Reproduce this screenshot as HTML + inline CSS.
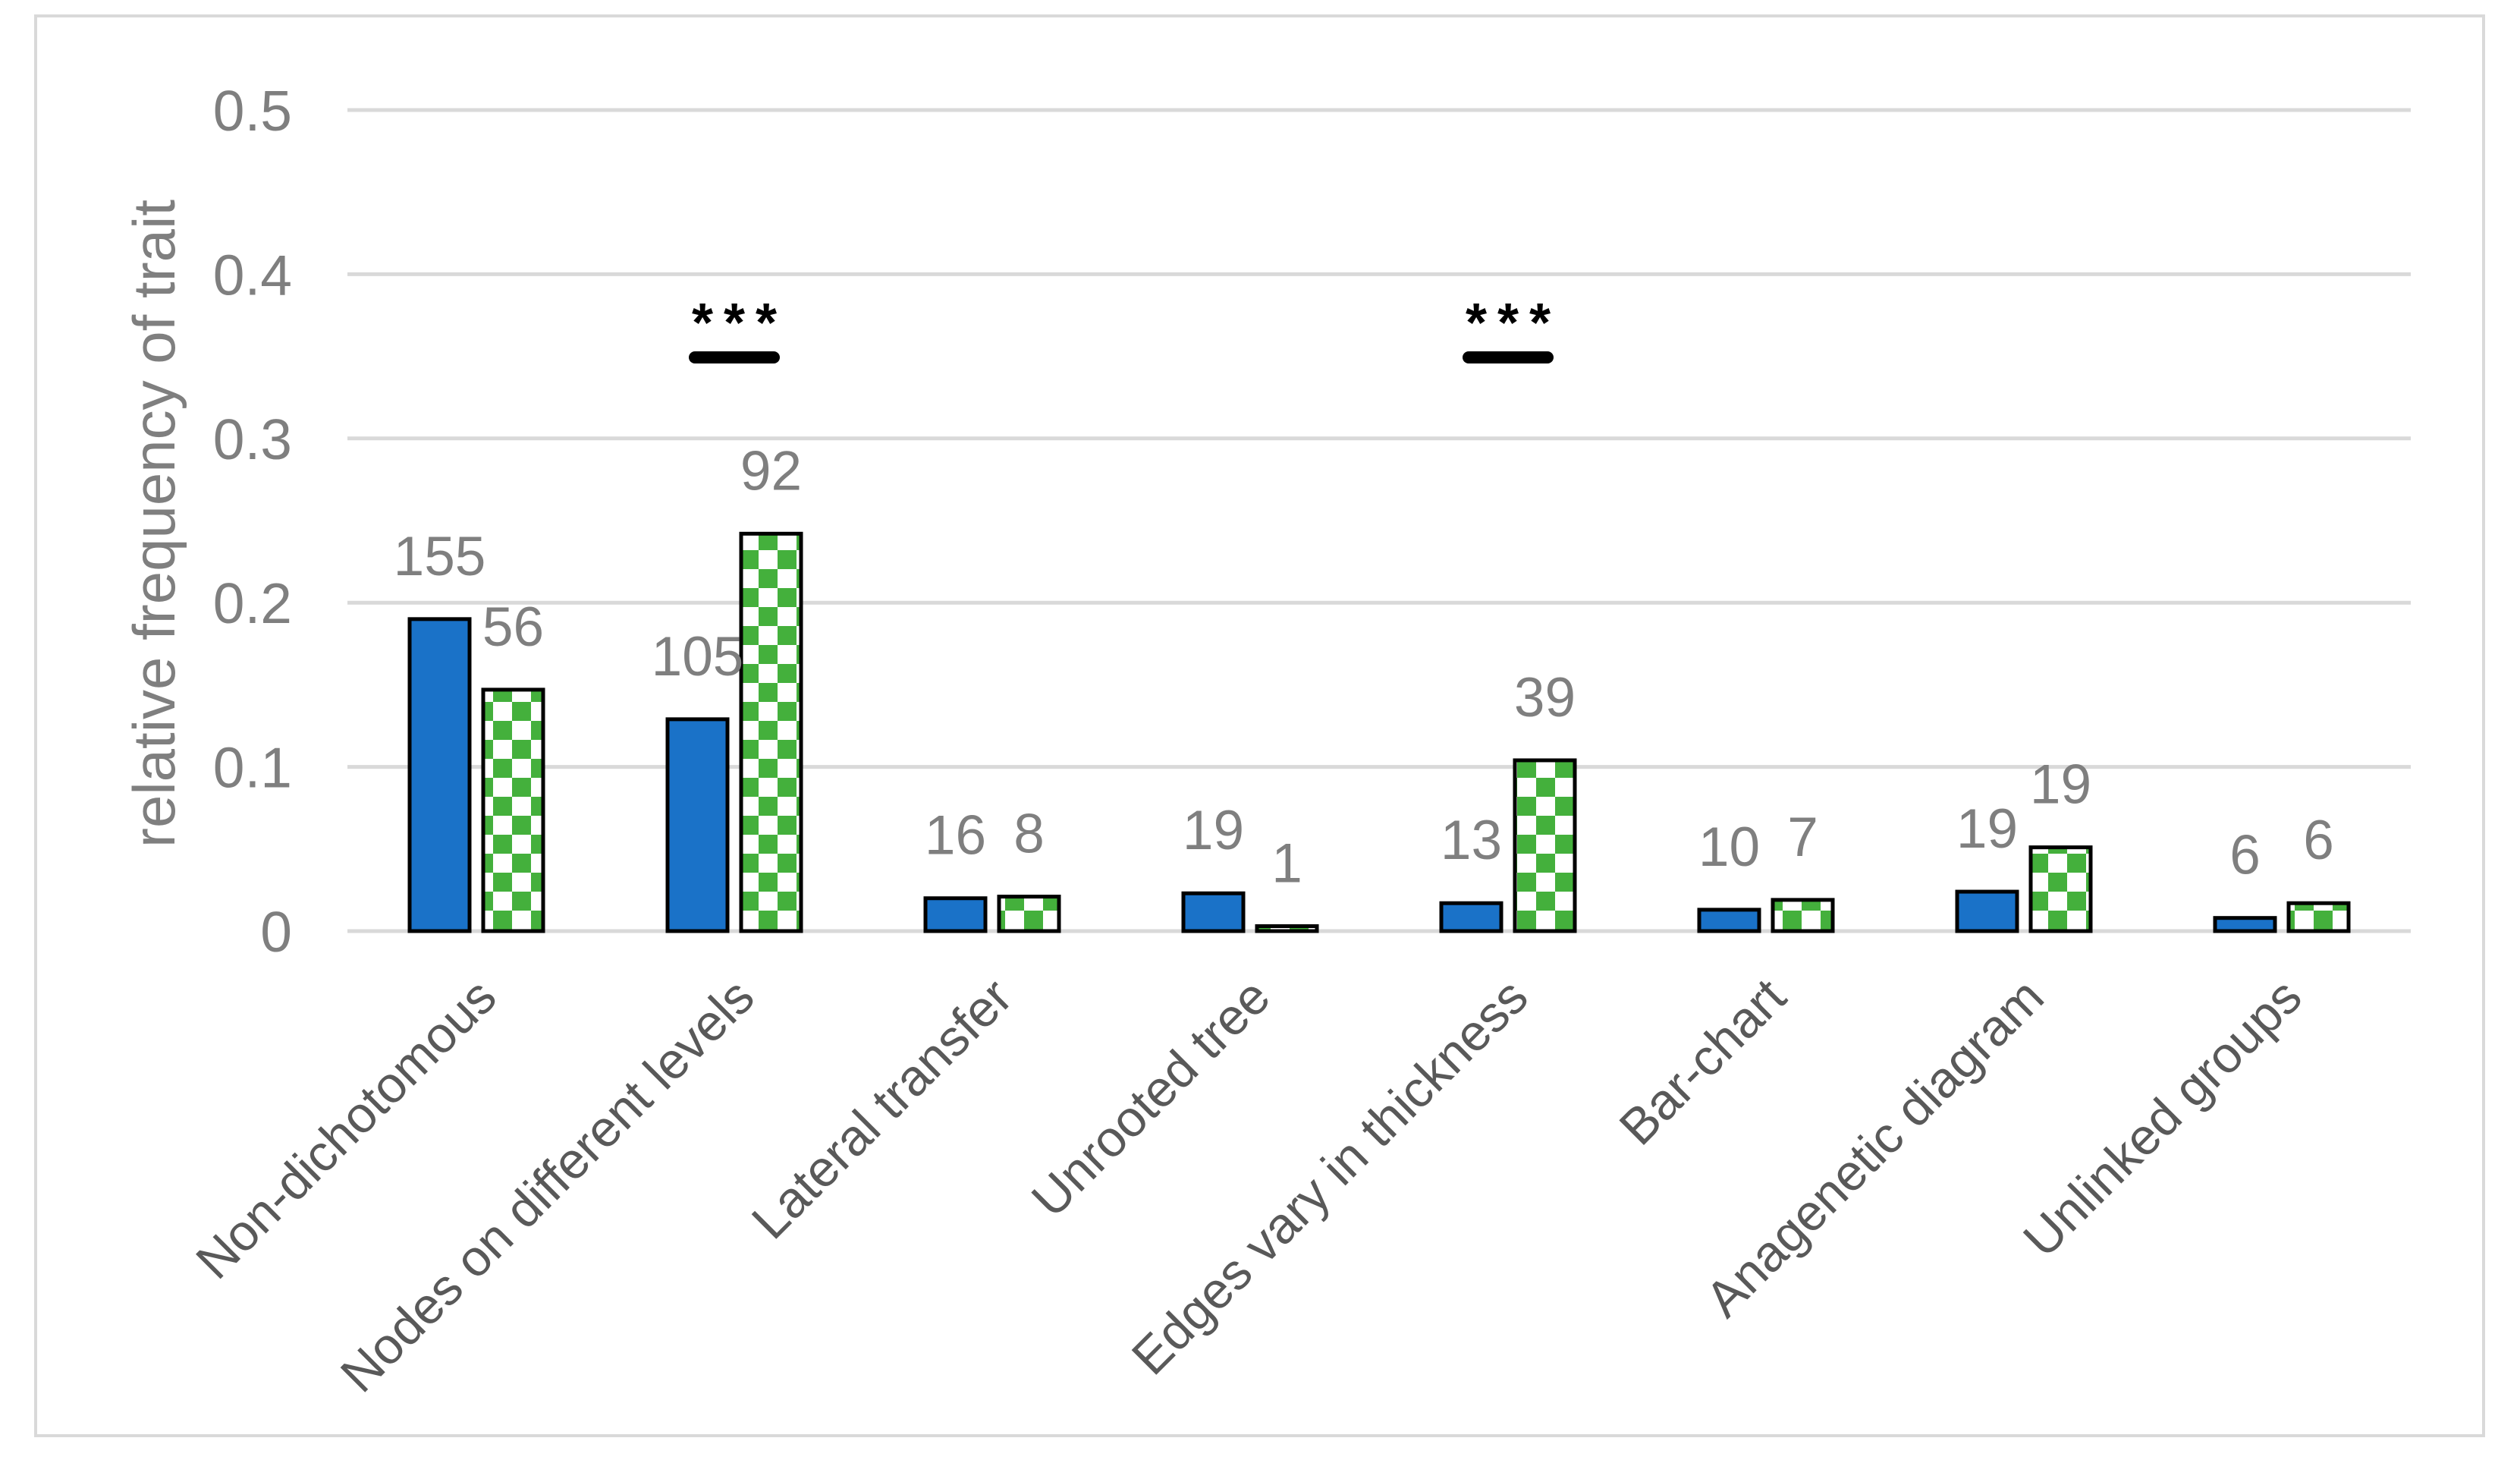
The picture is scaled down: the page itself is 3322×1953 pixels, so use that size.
<!DOCTYPE html>
<html><head><meta charset="utf-8"><style>
html,body{margin:0;padding:0;background:#fff;}
svg{display:block;}
text{font-family:"Liberation Sans",sans-serif;}
</style></head><body>
<svg id="chart" width="3322" height="1953" viewBox="0 0 3322 1953" xmlns="http://www.w3.org/2000/svg">
<defs>
<pattern id="checker" width="50" height="50" patternUnits="userSpaceOnUse">
<rect width="50" height="50" fill="#fff"/>
<rect x="0" y="0" width="25" height="25" fill="#44b03c"/>
<rect x="25" y="25" width="25" height="25" fill="#44b03c"/>
</pattern>
</defs>
<rect x="47" y="21" width="3227" height="1871" fill="#fff" stroke="#d9d9d9" stroke-width="4"/>
<g id="grid"></g>
<g id="bars"></g>
<g id="labels"></g>
<text x="0" y="0" transform="translate(230,690) rotate(-90)" text-anchor="middle" font-size="78" fill="#7f7f7f">relative frequency of trait</text>
</svg>
<script>
const categories = ["Non-dichotomous","Nodes on different levels","Lateral transfer","Unrooted tree","Edges vary in thickness","Bar-chart","Anagenetic diagram","Unlinked groups"];
const seriesA = [0.190,0.129,0.020,0.023,0.017,0.013,0.024,0.008];
const seriesB = [0.147,0.242,0.021,0.003,0.104,0.019,0.051,0.017];
const countsA = [155,105,16,19,13,10,19,6];
const countsB = [56,92,8,1,39,7,19,6];
const yTicks = [0,0.1,0.2,0.3,0.4,0.5];
const yTickLabels = ["0","0.1","0.2","0.3","0.4","0.5"];
const sigCategories = [1,4];

const NS="http://www.w3.org/2000/svg";
const plotL=458, plotR=3178, y0=1227, yMax=0.5, yTop=145;
function yScale(v){return y0-(v/yMax)*(y0-yTop);}
const band=(plotR-plotL)/categories.length;
function xCenter(i){return plotL+band*(i+0.5);}
function mk(tag,attrs,parent){const e=document.createElementNS(NS,tag);for(const k in attrs)e.setAttribute(k,attrs[k]);parent.appendChild(e);return e;}
const grid=document.getElementById('grid'), bars=document.getElementById('bars'), labels=document.getElementById('labels');

yTicks.forEach((t,i)=>{
  const y=yScale(t);
  const l=mk('line',{x1:plotL,x2:plotR,y1:y,y2:y,stroke:'#d9d9d9','stroke-width':5},grid);
  
  
  const tx=mk('text',{x:385,y:y+27,'text-anchor':'end','font-size':75,fill:'#7f7f7f'},grid);
  tx.textContent=yTickLabels[i];
  
  
});

const bw=79, off=48.5;
categories.forEach((c,i)=>{
  const cx=xCenter(i);
  const ya=yScale(seriesA[i]);
  const ra=mk('rect',{x:cx-off-bw/2,y:ya,width:bw,height:y0-ya,fill:'#1a72c8',stroke:'#000','stroke-width':5},bars);
  
  
  const yb=yScale(seriesB[i]);
  const rb=mk('rect',{x:cx+off-bw/2,y:yb,width:bw,height:y0-yb,fill:'url(#checker)',stroke:'#000','stroke-width':5},bars);
  
  
  const la=mk('text',{x:cx-off,y:ya-58,'text-anchor':'middle','font-size':73,fill:'#7f7f7f'},labels);
  la.textContent=countsA[i];
  
  
  const lb=mk('text',{x:cx+off,y:yb-58,'text-anchor':'middle','font-size':73,fill:'#7f7f7f'},labels);
  lb.textContent=countsB[i];
  
  
  const xl=mk('text',{x:0,y:0,transform:'translate('+(cx+30)+',1318) rotate(-45)','text-anchor':'end','font-size':67,fill:'#595959'},labels);
  xl.textContent=c;
  
  
});

sigCategories.forEach(i=>{
  const cx=xCenter(i);
  const ln=mk('line',{x1:cx-52,x2:cx+52,y1:471,y2:471,stroke:'#000','stroke-width':16,'stroke-linecap':'round'},labels);
  
  
  const st=mk('text',{x:cx+7,y:450,'text-anchor':'middle','font-size':72,'font-weight':'bold',fill:'#000','letter-spacing':'14'},labels);
  st.textContent='***';
  
  
});
</script>
</body></html>
